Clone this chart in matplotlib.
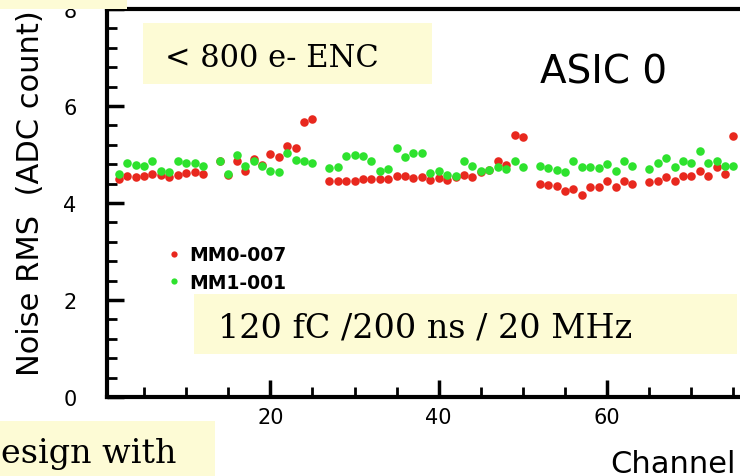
import numpy as np
import matplotlib
matplotlib.use('Agg')
import matplotlib.pyplot as plt
from matplotlib.patches import Rectangle
from matplotlib.lines import Line2D

# channel numbers (some channels have no entry)
channels = [2, 3, 4, 5, 6, 7, 8, 9, 10, 11, 12, 14, 15, 16, 17, 18, 19, 20, 21, 22,
            23, 24, 25, 27, 28, 29, 30, 31, 32, 33, 34, 35, 36, 37, 38, 39, 40, 41, 42, 43,
            44, 45, 46, 47, 48, 49, 50, 52, 53, 54, 55, 56, 57, 58, 59, 60, 61, 62, 63, 65,
            66, 67, 68, 69, 70, 71, 72, 73, 74, 75]

# noise rms, MM0-007 (red)
mm0_007 = [4.49, 4.55, 4.53, 4.55, 4.60, 4.58, 4.54, 4.58, 4.61, 4.63, 4.60, 4.86, 4.58, 4.86, 4.67, 4.91, 4.78, 5.02, 4.95, 5.18,
           5.13, 5.68, 5.74, 4.45, 4.46, 4.45, 4.45, 4.49, 4.49, 4.49, 4.49, 4.55, 4.55, 4.52, 4.53, 4.48, 4.51, 4.48, 4.53, 4.58,
           4.53, 4.64, 4.68, 4.87, 4.78, 5.41, 5.37, 4.39, 4.37, 4.36, 4.24, 4.29, 4.17, 4.34, 4.34, 4.45, 4.32, 4.46, 4.39, 4.44,
           4.46, 4.53, 4.46, 4.55, 4.55, 4.65, 4.55, 4.74, 4.60, 5.39]

# noise rms, MM1-001 (green)
mm1_001 = [4.60, 4.82, 4.79, 4.76, 4.87, 4.67, 4.63, 4.86, 4.83, 4.82, 4.76, 4.86, 4.59, 4.98, 4.76, 4.87, 4.76, 4.67, 4.63, 5.04,
           4.89, 4.86, 4.82, 4.72, 4.74, 4.96, 4.98, 4.96, 4.86, 4.65, 4.70, 5.13, 4.94, 5.03, 5.03, 4.62, 4.65, 4.58, 4.56, 4.86,
           4.76, 4.65, 4.69, 4.75, 4.70, 4.86, 4.74, 4.77, 4.72, 4.69, 4.63, 4.86, 4.74, 4.74, 4.72, 4.80, 4.67, 4.87, 4.76, 4.71,
           4.82, 4.92, 4.74, 4.87, 4.82, 5.07, 4.82, 4.87, 4.77, 4.77]

labels = ['MM0-007', 'MM1-001']
xticks = [20, 40, 60, 80, 100, 120]
yticks = [0, 2, 4, 6, 8]

W, H = 740, 477
red = '#e8281e'
green = '#2ee22e'
note_bg = '#fdfbd5'


def fx(px):
    return px / W


def fy(py):
    return 1 - py / H


fig = plt.figure(figsize=(7.4, 4.77), dpi=100)

# axes runs past the right edge of the (cropped) slide
ax = fig.add_axes([fx(107), fy(398), (1179.7 - 107) / W, (398 - 10) / H])
ax.scatter(channels, mm0_007, s=38, color=red, linewidths=0, zorder=3)
ax.scatter(channels, mm1_001, s=38, color=green, linewidths=0, zorder=3)

ax.set_xticks(xticks)
ax.set_xticks([v for v in range(5, 128, 5) if v % 20], minor=True)
ax.set_yticks(yticks)
ax.set_yticks([round(0.4 * i, 1) for i in range(1, 20) if i % 5], minor=True)
ax.set_xlim(0.6, 128)
ax.set_ylim(0, 8)

ax.tick_params(axis='x', which='major', direction='in', top=False, length=12,
               width=2.5, labelsize=15, pad=7)
ax.tick_params(axis='y', which='major', direction='in', right=False, length=12,
               width=2.5, labelsize=15, pad=22)
ax.tick_params(which='minor', direction='in', top=False, right=False, length=7, width=2)
for t in ax.yaxis.get_major_ticks():
    t.set_pad(22)
for sp in ax.spines.values():
    sp.set_linewidth(3)

handles = [Line2D([], [], ls='none', marker='o', ms=4.5, mfc=red, mec='none'),
           Line2D([], [], ls='none', marker='o', ms=4.5, mfc=green, mec='none')]
ax.legend(handles, labels, loc='upper left', bbox_to_anchor=(fx(159), fy(237)),
          bbox_transform=fig.transFigure, frameon=False, borderpad=0,
          handlelength=0.6, handletextpad=0.5, labelspacing=0.45,
          prop={'family': 'DejaVu Sans', 'weight': 'bold', 'size': 13.5})

fig.text(fx(31), fy(193), 'Noise RMS  (ADC count)', rotation=90,
         ha='center', va='center', fontsize=22)
fig.text(fx(610), fy(473), 'Channel', ha='left', va='baseline', fontsize=22)
fig.text(fx(540), fy(83), 'ASIC 0', ha='left', va='baseline', fontsize=28)

# yellow note boxes from the slide
boxes = [(0, 0, 127, 10), (143, 24, 432, 85), (194, 295, 737, 355), (0, 422, 215, 477)]
for x0, y0, x1, y1 in boxes:
    fig.add_artist(Rectangle((fx(x0), fy(y1)), fx(x1) - fx(x0), fy(y0) - fy(y1),
                             transform=fig.transFigure, color=note_bg, lw=0, zorder=5))

fig.text(fx(165), fy(67), '< 800 e- ENC', family='DejaVu Serif', fontsize=22,
         ha='left', va='baseline', zorder=6)
fig.text(fx(218), fy(338), '120 fC /200 ns / 20 MHz', family='DejaVu Serif', fontsize=24,
         ha='left', va='baseline', zorder=6)
fig.text(fx(1), fy(463), 'esign with', family='DejaVu Serif', fontsize=24,
         ha='left', va='baseline', zorder=6)

plt.savefig('out.png', dpi=100)
